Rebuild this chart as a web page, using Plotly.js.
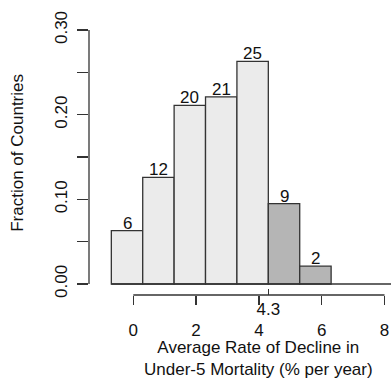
<!DOCTYPE html>
<html>
<head>
<meta charset="utf-8">
<script src="https://cdn.plot.ly/plotly-3.0.1.min.js"></script>
<style>html,body{margin:0;padding:0;background:#fff;}#chart{width:391px;height:379px;}</style>
</head>
<body>
<div id="chart"></div>
<script>
// Histogram bins (left edges), counts and fraction of countries
const binStart = [-0.7, 0.3, 1.3, 2.3, 3.3, 4.3, 5.3];
const binWidth = [1, 1, 1, 1, 1, 1, 1];
const counts = [6, 12, 20, 21, 25, 9, 2];
const fractions = [0.063, 0.126, 0.211, 0.221, 0.263, 0.095, 0.021];
const binGroup = ["below", "below", "below", "below", "below", "above", "above"];
const xTicks = [0, 2, 4, 6, 8];
const yTicks = [0, 0.05, 0.10, 0.15, 0.20, 0.25, 0.30];
const yTickText = ["0.00", "", "0.10", "", "0.20", "", "0.30"];
const cutoff = [4.3];
const cutoffLabel = ["4.3"];

const FONT = "Liberation Sans, Arial, sans-serif";
const FS = 17;
const INK = "#111111";
const LINE = "#333333";
const groupColor = {below: "#ebebeb", above: "#b5b5b5"};

const xRange = [-1.411, 8.207];
const yRange = [-0.0130, 0.30];

const centers = binStart.map((s, i) => s + binWidth[i] / 2);

const bars = {
  type: "bar",
  x: centers,
  y: fractions,
  width: binWidth,
  marker: {color: binGroup.map(g => groupColor[g]), line: {color: LINE, width: 1.3}},
  hoverinfo: "skip",
  showlegend: false
};

const cutoffTrace = {
  type: "scatter", mode: "markers",
  x: cutoff, y: [0],
  xaxis: "x2", yaxis: "y",
  marker: {opacity: 0, size: 1},
  hoverinfo: "skip", showlegend: false
};

const countLabels = centers.map((c, i) => ({
  text: String(counts[i]), xref: "x", x: c, yref: "y", y: fractions[i],
  xanchor: "center", yanchor: "bottom", yshift: -4, showarrow: false,
  font: {family: FONT, size: FS, color: INK}
}));

const layout = {
  width: 391, height: 379,
  margin: {l: 89, r: 0, t: 30, b: 84},
  paper_bgcolor: "#ffffff", plot_bgcolor: "#ffffff",
  font: {family: FONT, size: FS, color: INK},
  bargap: 0,
  xaxis: {
    range: xRange, tickvals: xTicks, ticktext: xTicks.map(String),
    ticks: "outside", ticklen: 9, tickwidth: 1.3, tickcolor: LINE,
    showline: false, zeroline: false, showgrid: false,
    tickfont: {family: FONT, size: FS, color: INK},
    ticklabelstandoff: 11
  },
  xaxis2: {
    range: xRange, overlaying: "x", anchor: "y", side: "bottom",
    tickvals: cutoff, ticktext: cutoffLabel,
    ticks: "inside", ticklen: 6, tickwidth: 1.3, tickcolor: LINE,
    showline: false, zeroline: false, showgrid: false,
    tickfont: {family: FONT, size: FS, color: INK},
    ticklabelstandoff: 2
  },
  yaxis: {
    range: yRange, tickvals: yTicks, ticktext: yTickText,
    ticks: "outside", ticklen: 11, tickwidth: 1.3, tickcolor: LINE,
    tickangle: -90,
    showline: false, zeroline: false, showgrid: false,
    tickfont: {family: FONT, size: FS, color: INK},
    ticklabelstandoff: 3
  },
  shapes: [
    {type: "line", xref: "paper", yref: "y", x0: 0, x1: 0, y0: 0, y1: 0.30, line: {color: LINE, width: 1.3}},
    {type: "line", xref: "x", yref: "paper", x0: xTicks[0], x1: xTicks[xTicks.length - 1], y0: 0, y1: 0, line: {color: LINE, width: 1.3}},
    {type: "line", xref: "x", yref: "y", x0: binStart[0], x1: xRange[1], y0: 0, y1: 0, line: {color: LINE, width: 1.3}}
  ],
  annotations: countLabels.concat([
    {text: "Average Rate of Decline in<br>Under-5 Mortality (% per year)", xref: "x", x: 4.0, yref: "paper", y: -0.158,
     xanchor: "center", yanchor: "top", borderpad: 0, showarrow: false, font: {family: FONT, size: FS, color: INK}},
    {text: "Fraction of Countries", xref: "paper", x: -0.235, yref: "y", y: 0.155, textangle: -90,
     xanchor: "center", yanchor: "middle", showarrow: false, font: {family: FONT, size: FS, color: INK}}
  ])
};

Plotly.newPlot("chart", [bars, cutoffTrace], layout, {staticPlot: true, displayModeBar: false});
</script>
</body>
</html>
